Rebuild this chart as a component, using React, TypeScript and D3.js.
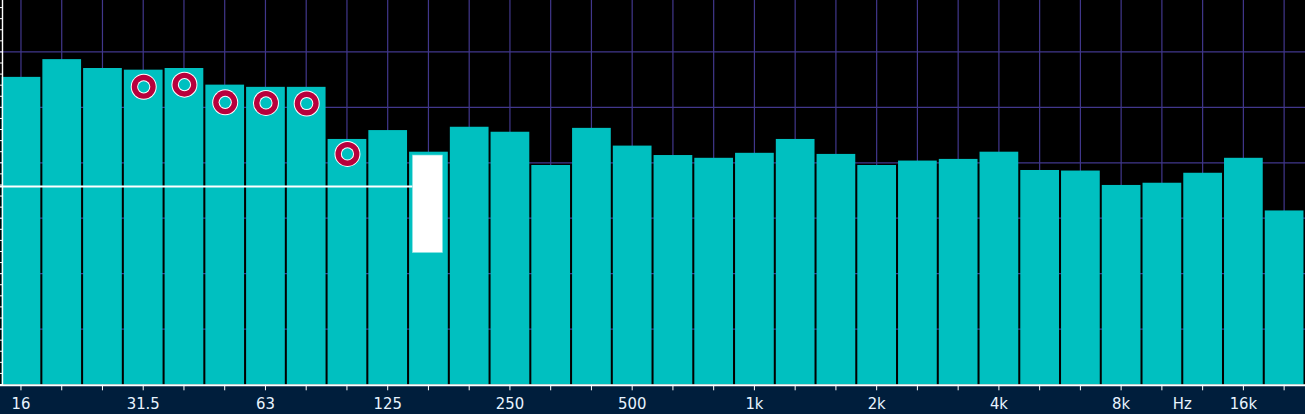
import React from 'react';
import * as d3 from 'd3';

const bands = ['16','20','25','31.5','40','50','63','80','100','125','160','200','250','315','400','500','630','800','1k','1.25k','1.6k','2k','2.5k','3.15k','4k','5k','6.3k','8k','10k','12.5k','16k','20k'];
const levels = [55.5,58.7,57.1,56.8,57.1,54.1,53.7,53.7,44.3,45.9,42.0,46.5,45.6,39.6,46.3,43.1,41.4,40.9,41.8,44.3,41.6,39.6,40.4,40.7,42.0,38.7,38.6,36.0,36.4,38.2,40.9,31.4];
const markerBands = ['31.5','40','50','63','80','100'];
const markerLevels = [53.7,54.1,50.9,50.8,50.7,41.6];
const tickLabels = ['16','31.5','63','125','250','500','1k','2k','4k','8k','16k'];
const unitLabel = 'Hz';
const unitBetween = ['10k','12.5k'];
const refLevel = 35.7;
const rangeBand = '160';
const rangeLow = 23.8;
const rangeHigh = 41.4;
const yDomain = [0, 70];

const W = 1305;
const H = 414;
const AXIS_Y = 385.3;

const TEAL = '#00c0c0';
const GRID = '#41378c';
const NAVY = '#001e3c';
const CRIMSON = '#b8003c';
const LABEL = '#e8f4ff';
const FONT = '"Liberation Sans Narrow", "Arial Narrow", "DejaVu Sans Condensed", "Liberation Sans", Arial, sans-serif';

export default function App() {
  const x = d3.scaleBand<string>().domain(bands).range([0.6, 1304.5]).paddingInner(0.05).paddingOuter(0.025);
  const y = d3.scaleLinear().domain(yDomain).range([384.5, -3.5]);
  const bw = x.bandwidth();
  const cx = (b: string) => (x(b) as number) + bw / 2;
  const gridTicks = y.ticks(7).filter((v) => v > 0);
  const minorTicks = y.ticks(35);
  const rectW = bw * 0.78;
  const unitX = (cx(unitBetween[0]) + cx(unitBetween[1])) / 2;

  return (
    <svg width={W} height={H} style={{ position: 'absolute', left: 0, top: 0, display: 'block' }}>
      <rect x={0} y={0} width={W} height={H} fill="#000" />
      {/* grid */}
      {gridTicks.map((v) => (
        <line key={'h' + v} x1={0} x2={W} y1={y(v)} y2={y(v)} stroke={GRID} strokeWidth={1.2} />
      ))}
      {bands.map((b) => (
        <line key={'v' + b} x1={cx(b)} x2={cx(b)} y1={0} y2={AXIS_Y} stroke={GRID} strokeWidth={1.2} />
      ))}
      {/* bars */}
      {bands.map((b, i) => (
        <rect key={'b' + b} x={x(b)} y={y(levels[i])} width={bw} height={384.5 - y(levels[i])} fill={TEAL} />
      ))}
      {/* reference line */}
      <line x1={0} x2={cx(rangeBand) - rectW / 2} y1={y(refLevel)} y2={y(refLevel)} stroke="#fff" strokeWidth={2} />
      {/* range rect */}
      <rect x={cx(rangeBand) - rectW / 2 - 1} y={y(rangeHigh)} width={rectW} height={y(rangeLow) - y(rangeHigh)} fill="#fff" stroke="#7ee0e0" strokeWidth={0.6} />
      {/* markers */}
      {markerBands.map((b, i) => {
        const mx = cx(b) + 0.5;
        const my = y(markerLevels[i]);
        return (
          <g key={'m' + b}>
            <circle cx={mx} cy={my} r={13} fill="#fff" />
            <circle cx={mx} cy={my} r={12} fill={CRIMSON} />
            <circle cx={mx} cy={my} r={6.6} fill="#fff" />
            <circle cx={mx} cy={my} r={5.6} fill={TEAL} />
          </g>
        );
      })}
      {/* left axis */}
      <line x1={2.5} x2={2.5} y1={0} y2={AXIS_Y} stroke="#fff" strokeWidth={1.4} />
      {minorTicks.map((v) => (
        <line key={'t' + v} x1={0} x2={2.5} y1={y(v)} y2={y(v)} stroke="#fff" strokeWidth={1} />
      ))}
      {/* bottom band */}
      <rect x={0} y={AXIS_Y} width={W} height={H - AXIS_Y} fill={NAVY} />
      <line x1={0} x2={W} y1={AXIS_Y} y2={AXIS_Y} stroke="#fff" strokeWidth={2} />
      {bands.map((b) => (
        <line key={'xt' + b} x1={cx(b)} x2={cx(b)} y1={AXIS_Y} y2={AXIS_Y + 5} stroke="#fff" strokeWidth={1} />
      ))}
      {tickLabels.map((t) => (
        <text key={'l' + t} x={cx(t)} y={409} textAnchor="middle" fill={LABEL} fontFamily={FONT} fontSize={16.5}>
          {t}
        </text>
      ))}
      <text x={unitX} y={409} textAnchor="middle" fill={LABEL} fontFamily={FONT} fontSize={16.5}>
        {unitLabel}
      </text>
    </svg>
  );
}
